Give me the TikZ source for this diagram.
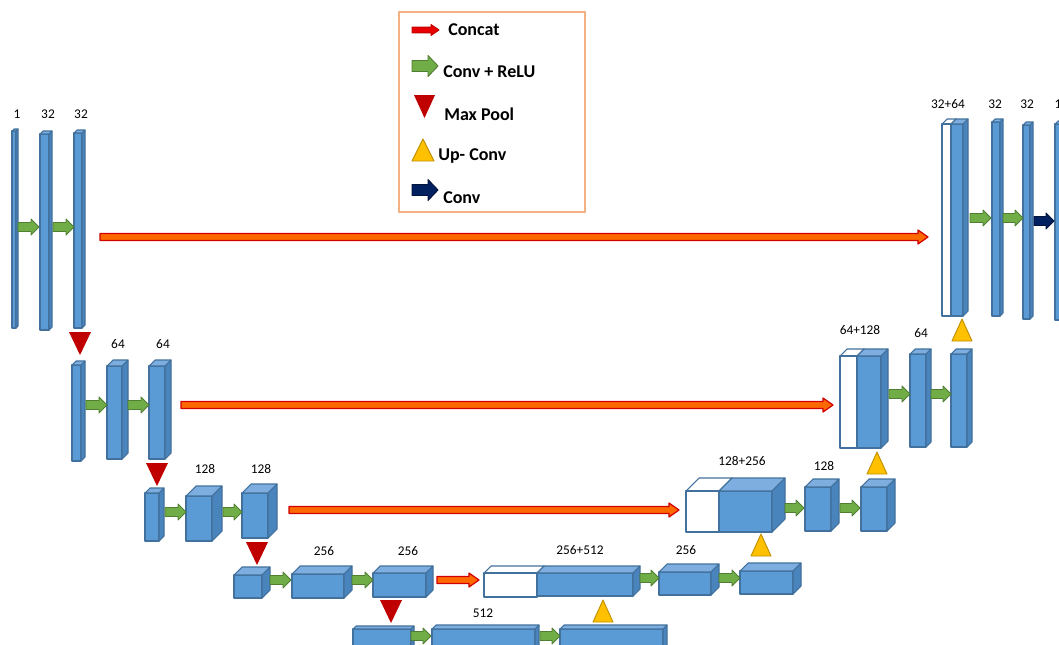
\documentclass[tikz,border=0pt]{standalone}
\usepackage{fontspec}
\setmainfont{Carlito}
\definecolor{bfront}{HTML}{5B9BD5}
\definecolor{btop}{HTML}{7EAEE0}
\definecolor{bside}{HTML}{4A84BD}
\definecolor{bline}{HTML}{41719C}
\definecolor{agreen}{HTML}{70AD47}
\definecolor{agreenline}{HTML}{507E32}
\definecolor{anavy}{HTML}{002060}
\definecolor{anavyline}{HTML}{00133A}
\definecolor{aorange}{HTML}{FF6A00}
\definecolor{ared}{HTML}{D00000}
\definecolor{legred}{HTML}{E80000}
\definecolor{mpred}{HTML}{C00000}
\definecolor{upyellow}{HTML}{FFC000}
\definecolor{upline}{HTML}{BF9000}
\definecolor{legline}{HTML}{F4B183}
\tikzset{
  blockline/.style={draw=bline, line width=0.8pt, line join=round},
  garrow/.style={fill=agreen, draw=agreenline, line width=0.7pt, line join=round},
  narrow/.style={fill=anavy, draw=anavyline, line width=0.7pt, line join=round},
  carrow/.style={fill=aorange, draw=ared, line width=0.9pt, line join=round},
  lcarrow/.style={fill=legred, draw=mpred, line width=0.7pt, line join=round},
  mpoolstyle/.style={fill=mpred},
  upstyle/.style={fill=upyellow, draw=upline, line width=0.7pt, line join=round},
  lbl/.style={font=\fontsize{10}{12}\selectfont, inner sep=0pt},
  legtext/.style={font=\fontsize{13.5}{16}\selectfont\bfseries, anchor=west, inner sep=0pt},
}
% x y w h d
\newcommand{\blk}[5]{%
  \draw[blockline, fill=bfront] (#1,#2) rectangle ++(#3,#4);
  \draw[blockline, fill=btop] (#1,#2) -- ++(#5,-#5) -- ++(#3,0) -- ++(-#5,#5) -- cycle;
  \draw[blockline, fill=bside] (#1+#3,#2) -- ++(#5,-#5) -- ++(0,#4) -- ++(-#5,#5) -- cycle;
}
\newcommand{\wblk}[5]{%
  \draw[blockline, fill=white] (#1,#2) -- ++(#5,-#5) -- ++(#3,0) -- ++(-#5,#5) -- cycle;
  \draw[blockline, fill=white] (#1+#3,#2) -- ++(#5,-#5) -- ++(0,#4) -- ++(-#5,#5) -- cycle;
  \draw[blockline, fill=white] (#1,#2) rectangle ++(#3,#4);
}
% style x1 x2 y shafthalf headhalf headlen
\newcommand{\harrow}[7]{%
  \draw[#1] (#2,#4-#5) -- (#3-#7,#4-#5) -- (#3-#7,#4-#6) -- (#3,#4) -- (#3-#7,#4+#6) -- (#3-#7,#4+#5) -- (#2,#4+#5) -- cycle;
}
\newcommand{\garr}[3]{\harrow{garrow}{#1}{#2}{#3}{4.5}{8}{8}}
\newcommand{\narr}[3]{\harrow{narrow}{#1}{#2}{#3}{4.5}{8}{8}}
\newcommand{\carr}[3]{\harrow{carrow}{#1}{#2}{#3}{3.5}{7}{10}}
\newcommand{\mpool}[2]{\fill[mpoolstyle] (#1-11,#2) -- (#1+11,#2) -- (#1,#2+23) -- cycle;}
\newcommand{\upc}[2]{\draw[upstyle] (#1-10,#2) -- (#1+10,#2) -- (#1,#2-22) -- cycle;}
\begin{document}
\begin{tikzpicture}[x=0.75pt,y=-0.75pt]
\useasboundingbox (0,0) rectangle (1059,644);
\fill[white] (0,0) rectangle (1059,644);

% ---------- Legend ----------
\draw[legline, line width=0.8pt] (399,12) rectangle (585,212);
\harrow{lcarrow}{412}{439}{30}{2.8}{5.5}{8}
\node[legtext] (tconcat) at (448,30) {Concat};
\harrow{garrow}{412}{438}{66}{5.5}{10.5}{10}
\node[legtext] (tconv) at (443,72) {Conv + ReLU};
\fill[mpoolstyle] (414,95) -- (435,95) -- (424.5,118) -- cycle;
\node[legtext] (tpool) at (444,114) {Max Pool};
\draw[upstyle] (412,161) -- (434,161) -- (423,139) -- cycle;
\node[legtext] (tup) at (438,156) {Up- Conv};
\harrow{narrow}{412}{438}{190}{5.5}{10.5}{10}
\node[legtext] (tconv2) at (443,198) {Conv};

% ---------- Level 1 ----------
\blk{12}{131}{4}{197}{2}
\blk{40}{134}{9}{196}{3}
\blk{74}{133}{8}{195}{3}
\garr{18}{39}{227}
\garr{53}{74}{227}
\node[lbl] (l1a) at (17,114) {1};
\node[lbl] (l1b) at (48,114) {32};
\node[lbl] (l1c) at (81,114) {32};
\carr{100}{928}{237}

\wblk{942}{124}{9}{192}{5}
\blk{951}{124}{12}{192}{5}
\blk{992}{122}{8}{194}{3}
\blk{1023}{125}{7}{194}{3}
\blk{1055}{124}{8}{196}{3}
\garr{970}{991}{218}
\garr{1003}{1023}{218}
\narr{1034}{1054}{221}
\node[lbl] (r1a) at (948,104) {32+64};
\node[lbl] (r1b) at (995,104) {32};
\node[lbl] (r1c) at (1027,104) {32};
\node[lbl] (r1d) at (1058,104) {1};
\mpool{80}{332}
\upc{962}{341}

% ---------- Level 2 ----------
\blk{72}{365}{9}{96}{4}
\blk{107}{366}{15}{93}{6}
\blk{149}{366}{16}{93}{6}
\garr{86}{107}{405}
\garr{128}{149}{405}
\node[lbl] (l2a) at (118,344) {64};
\node[lbl] (l2b) at (163,344) {64};
\carr{181}{833}{405}

\wblk{840}{356}{17}{92}{7}
\blk{857}{356}{24}{92}{7}
\blk{910}{354}{16}{93}{5}
\blk{951}{354}{16}{93}{5}
\garr{889}{910}{394}
\garr{931}{951}{394}
\node[lbl] (r2a) at (860,330) {64+128};
\node[lbl] (r2b) at (921,333) {64};
\mpool{157}{463}
\upc{877}{474}

% ---------- Level 3 ----------
\blk{145}{493}{14}{48}{5}
\blk{186}{496}{26}{45}{10}
\blk{242}{493}{26}{45}{9}
\garr{165}{186}{512}
\garr{223}{242}{512}
\node[lbl] (l3a) at (205,469) {128};
\node[lbl] (l3b) at (261,469) {128};
\carr{289}{679}{510}

\wblk{686}{491}{33}{41}{13}
\blk{719}{491}{53}{41}{13}
\blk{805}{487}{26}{44}{8}
\blk{861}{487}{26}{44}{8}
\garr{785}{804}{508}
\garr{840}{860}{508}
\node[lbl] (r3a) at (742,461) {128+256};
\node[lbl] (r3b) at (824,466) {128};
\mpool{257}{542}
\upc{761}{556}

% ---------- Level 4 ----------
\blk{234}{575}{28}{23}{8}
\blk{292}{574}{52}{24}{8}
\blk{373}{573}{53}{24}{7}
\garr{270}{291}{580}
\garr{352}{373}{580}
\node[lbl] (l4a) at (324,551) {256};
\node[lbl] (l4b) at (408,551) {256};
\carr{437}{479}{580}

\wblk{484}{573}{53}{24}{7}
\blk{537}{573}{96}{23}{7}
\blk{659}{572}{52}{23}{8}
\blk{740}{571}{53}{23}{8}
\garr{640}{659}{578}
\garr{719}{740}{578}
\node[lbl] (r4a) at (580,550) {256+512};
\node[lbl] (r4b) at (686,550) {256};
\mpool{391}{600}
\upc{603}{622}

% ---------- Level 5 ----------
\blk{353}{629}{58}{20}{3}
\blk{432}{629}{103}{20}{4}
\blk{560}{629}{103}{20}{4}
\garr{411}{431}{636}
\garr{540}{560}{636}
\node[lbl] (l5a) at (483,613) {512};
\end{tikzpicture}
\end{document}
